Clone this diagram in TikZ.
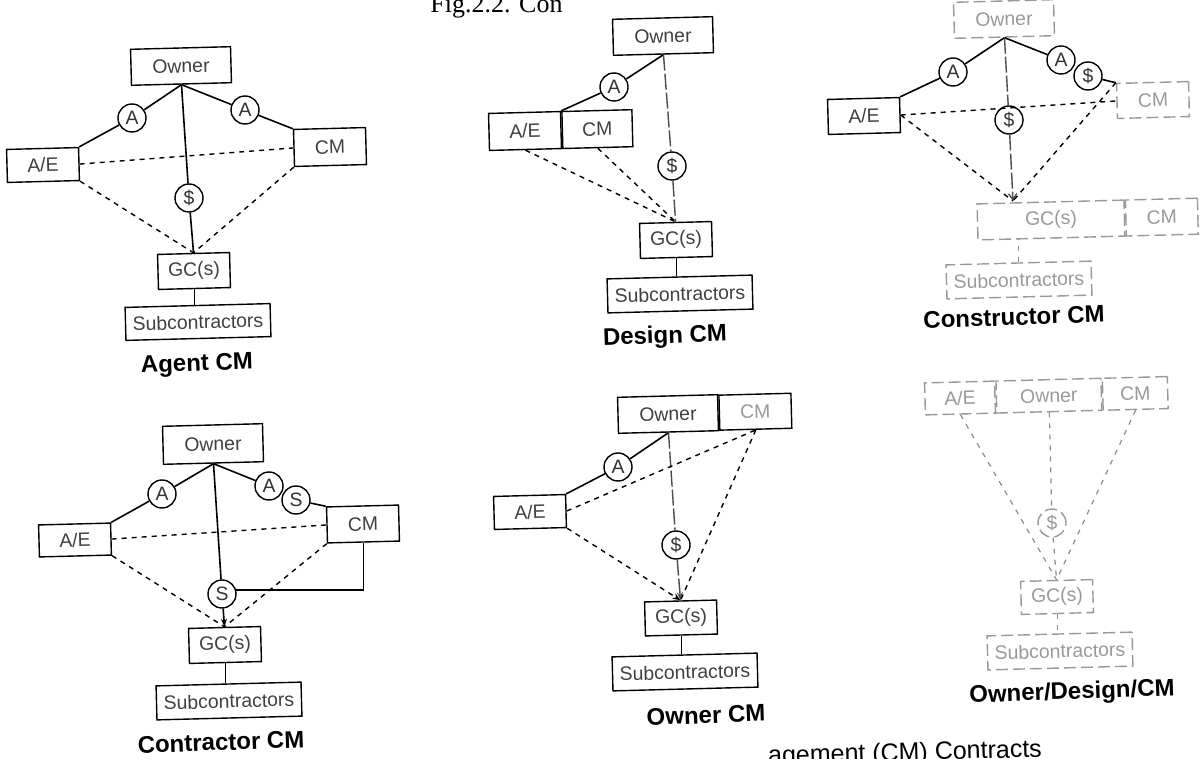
\documentclass[tikz,border=0pt]{standalone}
\usepackage{fontspec}
\setmainfont{Liberation Sans}
\newfontfamily\capserif{Liberation Serif}
\usetikzlibrary{arrows.meta}

\begin{document}
\begin{tikzpicture}[x=0.5pt,y=-0.5pt,
  every node/.style={inner sep=0pt},
  box/.style={draw, line width=0.7pt, rotate=1.5, minimum width=36pt,
    minimum height=17.5pt, font=\fontsize{9.7}{11}\selectfont, text=black!75},
  wbox/.style={box, minimum width=50pt, minimum height=18pt},
  subbox/.style={box, minimum width=72.5pt, minimum height=16.5pt},
  ring/.style={draw, circle, line width=0.7pt, minimum size=14pt,
    font=\fontsize{9.7}{11}\selectfont, text=black!80},
  faint/.style={draw=black!40, dash pattern=on 6pt off 2.5pt, text=black!40},
  link/.style={line width=0.8pt},
  dashlink/.style={line width=0.7pt, dash pattern=on 2.5pt off 2.5pt},
  payline/.style={line width=0.7pt, draw=black!70, dash pattern=on 8pt off 1.5pt},
  fadelink/.style={line width=0.6pt, draw=black!45, dash pattern=on 2.5pt off 3pt},
  arrowin/.style={-{Stealth[length=4pt,width=3pt]}},
  barbin/.style={-{Straight Barb[length=3pt,width=4pt]}},
  diaglabel/.style={font=\bfseries\fontsize{12}{14}\selectfont, rotate=2},
]
\fill[white] (0,0) rectangle (1200,759);
\useasboundingbox (0,0) rectangle (1200,759);

% heading and caption lines, partly cut by the page edge
\node[anchor=base west, font=\capserif\fontsize{13}{15}\selectfont] (head) at (430,13) {Fig.2.2. Con};
\node[anchor=base west, rotate=1.5, font=\fontsize{12.5}{15}\selectfont] (foot) at (768,764) {agement (CM) Contracts};

% ---------------- Agent CM ----------------
\node[wbox] (ownA) at (181,66) {Owner};
\node[box, minimum height=16.5pt] (aeA) at (43,165) {A/E};
\node[box, minimum height=18.5pt] (cmA) at (330,147) {CM};
\node[box] (gcA) at (194,271) {GC(s)};
\node[subbox] (subA) at (198,322) {Subcontractors};
\node[ring] (agA1) at (132,118) {A};
\node[ring] (agA2) at (245,110) {A};
\node[ring] (pyA) at (189,198) {\$};
\node[diaglabel] (labA) at (197,365) {Agent CM};
\draw[link] (ownA.south) -- (agA1) -- (aeA.north east);
\draw[link] (ownA.south) -- (agA2) -- (cmA.north west);
\draw[link] (ownA.south) -- (pyA) -- (gcA.north);
\draw[link] (gcA.south) -- (gcA.south |- subA.north);
\draw[dashlink] (aeA.east) -- (cmA.west);
\draw[dashlink] (aeA.south east) -- (gcA.north);
\draw[dashlink] (cmA.south west) -- (gcA.north);

% ---------------- Design CM ----------------
\node[wbox] (ownB) at (663,36) {Owner};
\node[box, minimum height=18.5pt] (aeB) at (525,131) {A/E};
\node[box, minimum width=35pt, minimum height=18.5pt, anchor=west] (cmB) at (aeB.east) {CM};
\node[ring] (agB) at (614,87) {A};
\node[ring] (pyB) at (672,166) {\$};
\node[box] (gcB) at (676,240) {GC(s)};
\node[subbox, minimum height=17pt] (subB) at (680,294) {Subcontractors};
\node[diaglabel] (labB) at (665,337) {Design CM};
\draw[link] (ownB.south) -- (agB) -- (aeB.north east);
\draw[payline] (ownB.south) -- (pyB) -- (gcB.north);
\draw[link] (gcB.south) -- (gcB.south |- subB.north);
\draw[dashlink] (aeB.south) -- (gcB.north);
\draw[dashlink] (cmB.south) -- (gcB.north);

% ---------------- Constructor CM ----------------
\node[wbox, faint] (ownC) at (1004,19) {Owner};
\node[box] (aeC) at (864,116) {A/E};
\node[box, faint] (cmC) at (1153,100) {CM};
\node[ring] (agC1) at (953,72) {A};
\node[ring] (agC2) at (1061,60) {A};
\node[ring] (pyC2) at (1088,76) {\$};
\node[ring] (pyC) at (1009,120) {\$};
\node[box, faint, minimum width=73.5pt, minimum height=18pt] (gcC) at (1051,220) {GC(s)};
\node[box, faint, minimum height=18pt, anchor=west] (cmC2) at (gcC.east) {CM};
\node[subbox, faint, minimum height=17pt] (subC) at (1019,280) {Subcontractors};
\coordinate (tC) at (1013,201);
\node[diaglabel] (labC) at (1014,317) {Constructor CM};
\draw[link] (ownC.south) -- (agC1) -- (aeC.north east);
\draw[link] (ownC.south) -- (agC2);
\draw[link] (pyC2) -- (cmC.north west);
\draw[payline] (ownC.south) -- (pyC);
\draw[payline, barbin] (pyC) -- (tC);
\draw[fadelink] (subC.north) -- (subC.north |- gcC.south);
\draw[dashlink] (aeC.east) -- (cmC.west);
\draw[dashlink] (aeC.east) -- (tC);
\draw[dashlink] (cmC.north west) -- (tC);

% ---------------- Contractor CM ----------------
\node[wbox, minimum height=19pt] (ownD) at (213,444) {Owner};
\node[box, minimum height=16pt] (aeD) at (75,540) {A/E};
\node[box, minimum height=18pt] (cmD) at (363,524) {CM};
\node[ring] (agD1) at (162,494) {A};
\node[ring] (agD2) at (269,486) {A};
\node[ring] (pyD2) at (296,500) {S};
\node[ring] (pyD) at (222,594) {S};
\node[box] (gcD) at (225,645) {GC(s)};
\node[subbox, minimum height=17pt] (subD) at (229,701) {Subcontractors};
\node[diaglabel] (labD) at (221,742) {Contractor CM};
\draw[link] (ownD.south) -- (agD1) -- (aeD.north east);
\draw[link] (ownD.south) -- (agD2);
\draw[link] (pyD2) -- (cmD.north west);
\draw[link] (ownD.south) -- (pyD);
\draw[link, arrowin] (pyD) -- (gcD.north);
\draw[link] (pyD.15) -| (cmD.south);
\draw[link] (gcD.south) -- (gcD.south |- subD.north);
\draw[dashlink] (aeD.east) -- (cmD.west);
\draw[dashlink] (aeD.south east) -- (gcD.north);
\draw[dashlink] (cmD.south west) -- (gcD.north);

% ---------------- Owner CM ----------------
\node[wbox] (ownE) at (668,414) {Owner};
\node[box, anchor=west, text=black!40] (cmE) at (ownE.east) {CM};
\node[box, minimum height=16.5pt] (aeE) at (530,512) {A/E};
\node[ring] (agE) at (618,467) {A};
\node[ring] (pyE) at (676,545) {\$};
\node[box, minimum height=17pt] (gcE) at (681,618) {GC(s)};
\node[subbox, minimum height=17pt] (subE) at (685,672) {Subcontractors};
\node[diaglabel] (labE) at (706,715) {Owner CM};
\draw[link] (ownE.south) -- (agE) -- (aeE.north east);
\draw[payline] (ownE.south) -- (pyE);
\draw[payline, arrowin] (pyE) -- (gcE.north);
\draw[link] (gcE.south) -- (gcE.south |- subE.north);
\draw[dashlink] (aeE.east) -- (cmE.south);
\draw[dashlink, arrowin] (aeE.south east) -- (gcE.north);
\draw[dashlink] (cmE.south) -- (gcE.north);

% ---------------- Owner/Design/CM ----------------
\node[box, faint, minimum width=35pt, minimum height=16pt] (aeF) at (960,398) {A/E};
\node[box, faint, minimum width=52.5pt, minimum height=16pt, anchor=west] (ownF) at (aeF.east) {Owner};
\node[box, faint, minimum width=32.5pt, minimum height=16pt, anchor=west] (cmF) at (ownF.east) {CM};
\node[ring, faint] (pyF) at (1052,523) {\$};
\node[box, faint, minimum height=16.5pt] (gcF) at (1057,597) {GC(s)};
\node[subbox, faint, minimum height=17pt] (subF) at (1060,651) {Subcontractors};
\node[diaglabel] (labF) at (1072,693) {Owner/Design/CM};
\draw[fadelink] (aeF.south) -- (gcF.north);
\draw[fadelink] (ownF.south) -- (pyF) -- (gcF.north);
\draw[fadelink] (cmF.south) -- (gcF.north);
\draw[fadelink] (gcF.south) -- (gcF.south |- subF.north);
\end{tikzpicture}
\end{document}
